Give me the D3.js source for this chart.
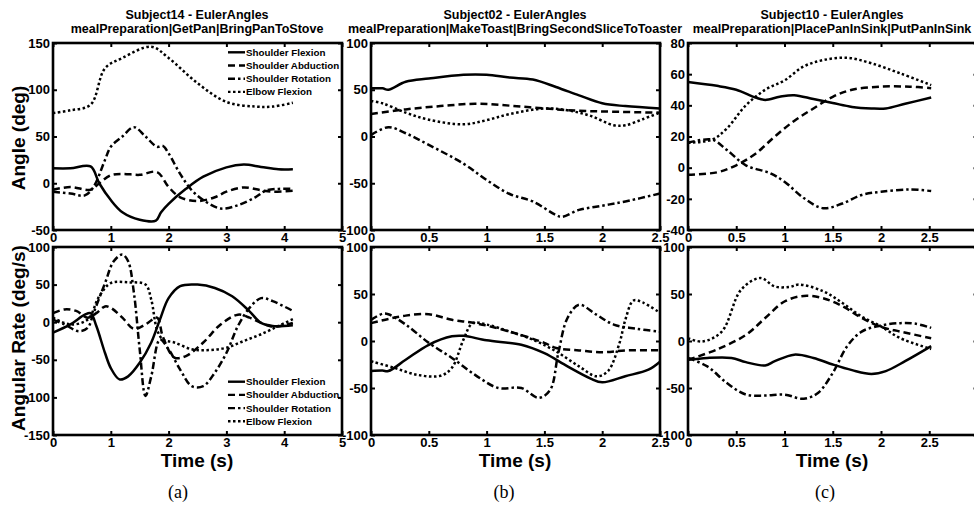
<!DOCTYPE html>
<html>
<head>
<meta charset="utf-8">
<script src="https://cdn.jsdelivr.net/npm/d3@7"></script>
<style>
  body { margin: 0; background: #fff; }
  svg { display: block; font-family: "Liberation Sans", Arial, sans-serif; }
  .tick text { font-weight: bold; font-size: 13px; fill: #000; }
  .tick line { stroke: #000; stroke-width: 2; }
</style>
</head>
<body>
<div id="chart"></div>
<script>
// series names, same order in every plot
var seriesNames = ["Shoulder Flexion", "Shoulder Abduction", "Shoulder Rotation", "Elbow Flexion"];

// (a) Subject14 - angles [time, deg]
var aAngFlex = [[0,16],[0.3,16],[0.65,18],[0.8,0],[1.0,-18],[1.2,-31],[1.5,-39],[1.78,-40],[1.87,-31],[2.0,-22],[2.3,-6],[2.6,7],[3.0,17],[3.3,20],[3.6,17.5],[3.9,15],[4.15,15]];
var aAngAbd  = [[0,-7],[0.3,-4],[0.65,-7],[0.8,0],[1.0,8.5],[1.2,10],[1.5,9],[1.8,12],[2.0,-4],[2.2,-15],[2.5,-19],[2.8,-15],[3.0,-9],[3.3,-4.5],[3.6,-7.5],[3.8,-9],[4.15,-8]];
var aAngRot  = [[0,-9],[0.3,-11],[0.55,-13],[0.7,-4],[0.9,25],[1.0,39],[1.2,50],[1.4,60],[1.6,50],[1.8,39],[1.9,40],[2.0,32],[2.2,10],[2.4,-7.5],[2.6,-18],[2.9,-27],[3.2,-23.5],[3.5,-15],[3.7,-7.5],[4.15,-6]];
var aAngElb  = [[0,75],[0.3,78],[0.65,84],[0.9,123],[1.2,134],[1.7,146],[2.0,134],[2.5,107],[3.0,87],[3.5,82],[3.8,82],[4.15,86]];

// (a) Subject14 - angular rates [time, deg/s]
var aRateFlex = [[0,-14],[0.3,-3],[0.55,10],[0.65,12],[0.75,-5],[0.9,-41],[1.0,-61],[1.15,-76],[1.3,-72],[1.5,-54],[1.7,-27],[1.85,3.5],[2.0,32],[2.2,48],[2.5,50],[2.8,45.5],[3.1,34.5],[3.4,14.5],[3.6,-1],[3.8,-5],[4.15,-4]];
var aRateAbd  = [[0,12],[0.2,17],[0.4,15],[0.6,6],[0.75,12],[0.9,21],[1.0,19],[1.2,6],[1.4,-9],[1.6,-3],[1.8,6],[1.9,-19],[2.1,-47],[2.3,-45],[2.6,-27],[2.9,-3],[3.2,10],[3.4,6],[3.6,-1],[3.8,-6],[4.15,-1]];
var aRateRot  = [[0,3.5],[0.2,-3],[0.45,-12],[0.6,-7.5],[0.7,12],[0.9,52],[1.05,81],[1.2,90],[1.3,81],[1.4,39],[1.5,-36],[1.6,-98],[1.7,-72],[1.85,-23],[2.0,-36],[2.2,-63],[2.4,-85],[2.6,-85],[2.8,-67],[3.0,-41],[3.2,-5],[3.4,19],[3.6,32],[3.8,28],[4.15,15]];
var aRateElb  = [[0,6],[0.3,-3],[0.6,3.5],[0.8,34.5],[1.0,52],[1.3,53],[1.6,50],[1.7,30],[1.8,-10],[1.9,-23],[2.1,-27],[2.4,-36],[2.7,-37],[3.0,-34],[3.3,-25],[3.6,-16],[3.9,-5],[4.15,4]];

// (b) Subject02
var bAngFlex = [[0,51.5],[0.1,51.5],[0.15,50],[0.3,58.5],[0.5,62],[0.8,66],[1.0,66],[1.2,63],[1.4,61],[1.6,53],[1.8,44],[2.0,35.5],[2.2,32.5],[2.5,30]];
var bAngAbd  = [[0,24],[0.3,29],[0.6,32.5],[0.9,35],[1.2,33],[1.5,30],[1.8,27.5],[2.1,26.5],[2.5,25.5]];
var bAngRot  = [[0,1.5],[0.15,10],[0.3,3.5],[0.5,-9],[0.8,-29],[1.0,-46.5],[1.2,-61.5],[1.4,-69.5],[1.6,-84],[1.65,-86],[1.8,-78.5],[2.0,-74],[2.2,-69.5],[2.5,-61]];
var bAngElb  = [[0,38],[0.1,35.5],[0.3,25.5],[0.5,18],[0.8,13],[1.0,17.5],[1.2,24],[1.5,30],[1.7,28],[1.9,22],[2.1,12],[2.2,12],[2.35,18.5],[2.5,25.5]];

var bRateFlex = [[0,-32],[0.1,-31.5],[0.15,-32],[0.3,-20],[0.5,-4],[0.7,5],[0.8,5.5],[1.0,0.7],[1.3,-4],[1.5,-13],[1.7,-27],[1.9,-40],[2.0,-44],[2.2,-37.5],[2.4,-30.5],[2.5,-22]];
var bRateAbd  = [[0,19],[0.15,23.5],[0.3,27],[0.5,28.5],[0.7,22.5],[0.9,19],[1.2,10],[1.5,-2],[1.6,-7.5],[1.8,-10],[2.0,-12],[2.2,-10],[2.5,-10]];
var bRateRot  = [[0,22.5],[0.1,29],[0.15,28.5],[0.3,17.5],[0.5,-2],[0.7,-18],[0.9,-36],[1.1,-50],[1.3,-50],[1.45,-60.5],[1.55,-52],[1.62,-13],[1.7,24.5],[1.8,38.5],[1.95,28],[2.1,17.5],[2.3,13],[2.5,10]];
var bRateElb  = [[0,-21.5],[0.2,-28.5],[0.4,-36],[0.6,-37],[0.7,-28.5],[0.8,1.5],[0.88,19],[1.0,17.5],[1.2,10],[1.4,1.5],[1.6,-11],[1.8,-27],[1.95,-37.5],[2.05,-32],[2.15,-2],[2.2,22.5],[2.27,43],[2.35,41],[2.5,30]];

// (c) Subject10
var cAngFlex = [[0,55],[0.3,52.5],[0.5,50],[0.7,45],[0.8,43.5],[0.95,45.5],[1.1,46.5],[1.3,44],[1.5,41.5],[1.7,39],[1.9,38],[2.05,38],[2.25,41],[2.52,45]];
var cAngAbd  = [[0,-4.5],[0.3,-3],[0.5,1.5],[0.7,9],[0.9,20],[1.1,30],[1.3,38],[1.5,45.5],[1.7,50],[2.0,52],[2.3,52],[2.52,51]];
var cAngRot  = [[0,16],[0.25,18],[0.4,11.5],[0.6,1.5],[0.85,-3.5],[1.0,-9],[1.2,-19.5],[1.4,-26],[1.6,-23],[1.8,-17.5],[2.0,-15.5],[2.3,-14],[2.52,-15]];
var cAngElb  = [[0,16],[0.25,18],[0.4,25],[0.6,40],[0.8,50],[1.0,56],[1.2,65],[1.4,69],[1.65,70.5],[1.9,67],[2.2,60.5],[2.52,53]];

var cRateFlex = [[0,-20],[0.2,-18],[0.45,-18],[0.6,-22.5],[0.8,-26],[0.9,-21.5],[1.1,-14.5],[1.3,-18],[1.5,-25],[1.7,-31],[1.9,-35],[2.05,-32],[2.25,-21.5],[2.52,-5.5]];
var cRateAbd  = [[0,-20],[0.3,-9],[0.6,6.5],[0.8,24.5],[1.0,42],[1.2,48],[1.4,45.5],[1.6,37],[1.8,24.5],[2.0,15],[2.2,10],[2.52,3]];
var cRateRot  = [[0,-18],[0.2,-27],[0.4,-44.5],[0.6,-57],[0.8,-58],[1.0,-57],[1.2,-61.5],[1.35,-55],[1.5,-34],[1.65,-5.5],[1.8,10],[2.0,16.5],[2.2,19],[2.35,18.5],[2.52,14]];
var cRateElb  = [[0,3],[0.15,-0.5],[0.35,10],[0.55,54.5],[0.75,67],[0.9,58],[1.05,57.5],[1.15,60],[1.4,53],[1.6,40.5],[1.8,26],[2.0,15.5],[2.2,3],[2.52,-8.5]];

// axis ticks
var xTicksA = [0, 1, 2, 3, 4, 5];
var xTicksBC = [0, 0.5, 1, 1.5, 2, 2.5, 3];
var yTicksAngA = [-50, 0, 50, 100, 150];
var yTicksRateA = [-150, -100, -50, 0, 50, 100];
var yTicksHundred = [-100, -50, 0, 50, 100];
var yTicksAngC = [-40, -20, 0, 20, 40, 60, 80];

// titles and captions
var titles = [
  ["Subject14 - EulerAngles", "mealPreparation|GetPan|BringPanToStove"],
  ["Subject02 - EulerAngles", "mealPreparation|MakeToast|BringSecondSliceToToaster"],
  ["Subject10 - EulerAngles", "mealPreparation|PlacePanInSink|PutPanInSink"]
];
var captions = ["(a)", "(b)", "(c)"];

var dashes = [null, "7,4", "7,3,2.5,3", "2.5,2.5"];

var W = 974, H = 506;
var svg = d3.select("#chart").append("svg").attr("width", W).attr("height", H);

function drawPlot(cfg) {
    var x = d3.scaleLinear().domain(cfg.xd).range([cfg.x0, cfg.x1]);
    var y = d3.scaleLinear().domain(cfg.yd).range([cfg.y1, cfg.y0]);
    var g = svg.append("g");
    var fmt = function(d) { return String(d); };

    g.append("g").attr("transform", "translate(0," + cfg.y1 + ")")
        .call(d3.axisBottom(x).tickValues(cfg.xt).tickFormat(fmt).tickSizeInner(-4).tickSizeOuter(0).tickPadding(3));
    g.append("g").attr("transform", "translate(0," + cfg.y0 + ")")
        .call(d3.axisTop(x).tickValues(cfg.xt).tickFormat("").tickSizeInner(-4).tickSizeOuter(0));
    g.append("g").attr("transform", "translate(" + cfg.x0 + ",0)")
        .call(d3.axisLeft(y).tickValues(cfg.yt).tickFormat(fmt).tickSizeInner(-4).tickSizeOuter(0).tickPadding(3));
    g.append("g").attr("transform", "translate(" + cfg.x1 + ",0)")
        .call(d3.axisRight(y).tickValues(cfg.yt).tickFormat("").tickSizeInner(-4).tickSizeOuter(0));
    g.selectAll(".domain").remove();

    var line = d3.line()
        .x(function(d) { return x(d[0]); })
        .y(function(d) { return y(d[1]); })
        .curve(d3.curveCatmullRom.alpha(0.5));

    cfg.series.forEach(function(s, i) {
        g.append("path")
            .attr("d", line(s))
            .attr("fill", "none")
            .attr("stroke", "#000")
            .attr("stroke-width", 2.5)
            .attr("stroke-dasharray", dashes[i]);
    });

    g.append("rect")
        .attr("x", cfg.x0).attr("y", cfg.y0)
        .attr("width", cfg.x1 - cfg.x0).attr("height", cfg.y1 - cfg.y0)
        .attr("fill", "none").attr("stroke", "#000").attr("stroke-width", 2.6);

    if (cfg.legend) {
        var lg = g.append("g");
        seriesNames.forEach(function(name, i) {
            var ly = cfg.legend[1] + i * 13.2;
            lg.append("line")
                .attr("x1", cfg.legend[0]).attr("x2", cfg.legend[0] + 17)
                .attr("y1", ly).attr("y2", ly)
                .attr("stroke", "#000").attr("stroke-width", 2.4)
                .attr("stroke-dasharray", dashes[i]);
            lg.append("text")
                .attr("x", cfg.legend[0] + 18).attr("y", ly)
                .attr("dy", "0.35em")
                .attr("font-size", "9.8px").attr("font-weight", "bold")
                .text(name);
        });
    }
}

var cols = [
  { x0: 53, x1: 342, xd: [0, 5], xt: xTicksA, cx: 197, cap: 178,
    top: { yd: [-50, 150], yt: yTicksAngA, series: [aAngFlex, aAngAbd, aAngRot, aAngElb], legend: [228, 52.3] },
    bot: { yd: [-150, 100], yt: yTicksRateA, series: [aRateFlex, aRateAbd, aRateRot, aRateElb], legend: [228, 381.7] } },
  { x0: 371, x1: 660, xd: [0, 2.5], xt: xTicksBC.slice(0, 6), cx: 515, cap: 504,
    top: { yd: [-100, 100], yt: yTicksHundred, series: [bAngFlex, bAngAbd, bAngRot, bAngElb] },
    bot: { yd: [-100, 100], yt: yTicksHundred, series: [bRateFlex, bRateAbd, bRateRot, bRateElb] } },
  { x0: 688, x1: 977.5, xd: [0, 3], xt: xTicksBC, cx: 832, cap: 825,
    top: { yd: [-40, 80], yt: yTicksAngC, series: [cAngFlex, cAngAbd, cAngRot, cAngElb] },
    bot: { yd: [-100, 100], yt: yTicksHundred, series: [cRateFlex, cRateAbd, cRateRot, cRateElb] } }
];

cols.forEach(function(c, i) {
    drawPlot({ x0: c.x0, x1: c.x1, xd: c.xd, xt: c.xt, y0: 43, y1: 230,
               yd: c.top.yd, yt: c.top.yt, series: c.top.series, legend: c.top.legend });
    drawPlot({ x0: c.x0, x1: c.x1, xd: c.xd, xt: c.xt, y0: 247, y1: 435,
               yd: c.bot.yd, yt: c.bot.yt, series: c.bot.series, legend: c.bot.legend });

    svg.append("text").attr("x", c.cx).attr("y", 19)
        .attr("text-anchor", "middle").attr("font-size", "12.5px").attr("font-weight", "bold")
        .text(titles[i][0]);
    svg.append("text").attr("x", c.cx).attr("y", 33)
        .attr("text-anchor", "middle").attr("font-size", "12.5px").attr("font-weight", "bold")
        .text(titles[i][1]);

    svg.append("text").attr("x", c.cx).attr("y", 467)
        .attr("text-anchor", "middle").attr("font-size", "19px").attr("font-weight", "bold")
        .text("Time (s)");

    svg.append("text").attr("x", c.cap).attr("y", 498)
        .attr("text-anchor", "middle").attr("font-size", "18px")
        .attr("font-family", "'Liberation Serif', 'Times New Roman', serif")
        .text(captions[i]);
});

svg.append("text")
    .attr("transform", "translate(25,138) rotate(-90)")
    .attr("text-anchor", "middle").attr("font-size", "19px").attr("font-weight", "bold")
    .text("Angle (deg)");
svg.append("text")
    .attr("transform", "translate(25,338) rotate(-90)")
    .attr("text-anchor", "middle").attr("font-size", "19px").attr("font-weight", "bold")
    .text("Angular Rate (deg/s)");
</script>
</body>
</html>
